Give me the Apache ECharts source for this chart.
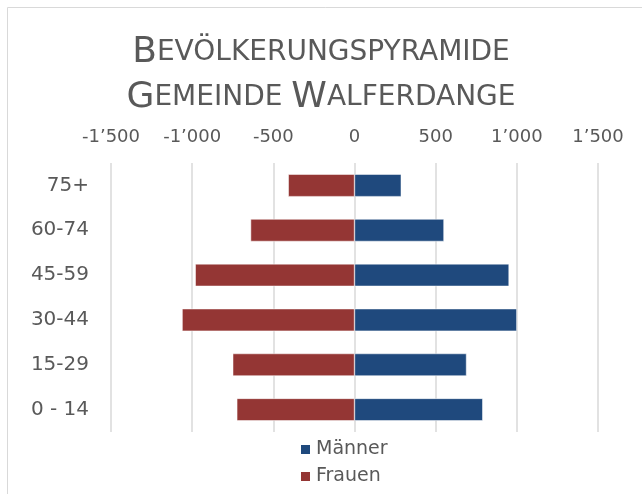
<!DOCTYPE html>
<html>
<head>
<meta charset="utf-8">
<script src="https://cdn.jsdelivr.net/npm/echarts@6/dist/echarts.min.js"></script>
<style>
  html, body { margin: 0; padding: 0; background: #fff; }
  #main { width: 642px; height: 494px; }
</style>
</head>
<body>
<div id="main"></div>
<script>
// Altersgruppen (von unten nach oben)
var categories = ['0 - 14', '15-29', '30-44', '45-59', '60-74', '75+'];
// Einwohner je Altersgruppe
var maenner = [790, 690, 1000, 952, 551, 288];
var frauen = [725, 750, 1062, 981, 640, 408];
var xTicks = { min: -1500, max: 1500, step: 500 };

var myChart = echarts.init(document.getElementById('main'));

// Zahlen im Format 1'500
function fmt(v) {
  var s = String(Math.abs(v)).replace(/\B(?=(\d{3})+(?!\d))/g, '\u2019');
  return (v < 0 ? '-' : '') + s;
}

var font = 'DejaVu Sans';

var option = {
  animation: false,
  title: {
    left: 'center',
    top: 25,
    text: '{b|B}{s|EVÖLKERUNGSPYRAMIDE}\n{b|G}{s|EMEINDE }{b|W}{s|ALFERDANGE}',
    textStyle: {
      fontWeight: 'normal',
      rich: {
        b: { fontFamily: font, fontSize: 36, fontWeight: 'normal', color: '#595959', lineHeight: 45 },
        s: { fontFamily: font, fontSize: 28, fontWeight: 'normal', color: '#595959', lineHeight: 45 }
      }
    }
  },
  legend: {
    orient: 'vertical',
    left: 294,
    top: 435,
    itemWidth: 11,
    itemHeight: 11,
    itemGap: 8,
    icon: 'rect',
    textStyle: { fontFamily: font, fontSize: 19, color: '#595959' },
    data: ['Männer', 'Frauen']
  },
  grid: { left: 111, right: 44, top: 163, bottom: 62, containLabel: false },
  xAxis: {
    type: 'value',
    position: 'top',
    min: xTicks.min,
    max: xTicks.max,
    interval: xTicks.step,
    axisLine: { show: false },
    axisTick: { show: false },
    axisLabel: { formatter: fmt, fontFamily: font, fontSize: 18, color: '#595959', margin: 17 },
    splitLine: { show: true, lineStyle: { color: '#d9d9d9', width: 1.5 } }
  },
  yAxis: {
    type: 'category',
    data: categories,
    axisLine: { show: false },
    axisTick: { show: false },
    axisLabel: { fontFamily: font, fontSize: 20, color: '#595959', margin: 22 }
  },
  series: [
    {
      name: 'Männer',
      type: 'bar',
      data: maenner,
      barGap: '-100%',
      barCategoryGap: '50%',
      itemStyle: { color: '#1f497d', borderColor: '#fff', borderWidth: 0.5 }
    },
    {
      name: 'Frauen',
      type: 'bar',
      data: frauen.map(function (v) { return -v; }),
      barCategoryGap: '50%',
      itemStyle: { color: '#943634', borderColor: '#fff', borderWidth: 0.5 }
    }
  ],
  graphic: [{
    type: 'rect',
    shape: { x: 7.5, y: 7.5, width: 660, height: 500 },
    style: { fill: 'none', stroke: '#d9d9d9', lineWidth: 1 },
    silent: true
  }]
};

myChart.setOption(option);
</script>
</body>
</html>
